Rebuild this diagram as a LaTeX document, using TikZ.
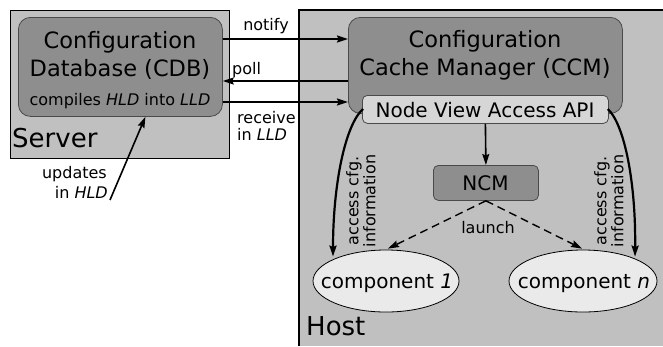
\documentclass[tikz,border=0pt]{standalone}
\usepackage{fontspec}
\setmainfont{DejaVu Sans}
\usetikzlibrary{arrows.meta,shapes.geometric}
\definecolor{boxbg}{HTML}{C0C0C0}
\definecolor{darkbox}{HTML}{8E8E8E}
\definecolor{apibg}{HTML}{D6D6D6}
\definecolor{compbg}{HTML}{EAEAEA}
\definecolor{edgegray}{HTML}{4A4A4A}
\begin{document}
\begin{tikzpicture}[x=1pt,y=-1pt,
  bigtxt/.style={font=\fontsize{22.5}{27}\selectfont},
  medtxt/.style={font=\fontsize{20}{24}\selectfont},
  smalltxt/.style={font=\fontsize{16}{17}\selectfont},
  hugetxt/.style={font=\fontsize{26}{30}\selectfont},
  txt/.style={inner sep=0pt, anchor=base},
  tipstyle/.style={-{Stealth[length=11pt,width=7pt,inset=1.5pt]}},
  conn/.style={tipstyle, line width=1.6pt},
  curveconn/.style={tipstyle, line width=2.2pt},
  dashconn/.style={tipstyle, line width=1.4pt, dash pattern=on 8pt off 5pt},
  outerbox/.style={draw, line width=1.4pt, fill=boxbg, inner sep=0pt, anchor=north west},
  darkrbox/.style={draw=edgegray, line width=0.8pt, fill=darkbox, inner sep=0pt, anchor=north west},
  compnode/.style={ellipse, draw, line width=0.8pt, fill=compbg, inner sep=0pt, minimum height=62pt}
]
\useasboundingbox (0,0) rectangle (663,346);
% Host area (extends beyond the picture)
\fill[boxbg] (299,10) rectangle (663,346);
\draw[line width=1.4pt] (299,346) -- (299,10) -- (663,10);
\node[txt, hugetxt, anchor=base west] (host) at (306,335) {Host};

% Server
\node[outerbox, minimum width=219pt, minimum height=148pt] (server) at (10,10) {};
\node[txt, hugetxt, anchor=base west] (serverlbl) at (12,147) {Server};
\node[darkrbox, rounded corners=12pt, minimum width=204pt, minimum height=99pt] (cdb) at (18,17) {};
\node[txt, bigtxt] (cdb1) at (120,48) {Configuration};
\node[txt, bigtxt] (cdb2) at (120,76) {Database (CDB)};
\node[txt, smalltxt] (cdb3) at (120,105) {compiles \textit{HLD} into \textit{LLD}};

% CCM
\node[darkrbox, rounded corners=12pt, minimum width=274pt, minimum height=96pt] (ccm) at (348,17) {};
\node[txt, bigtxt] (ccm1) at (485,47) {Configuration};
\node[txt, bigtxt] (ccm2) at (485,75) {Cache Manager (CCM)};

\node[draw=edgegray, line width=0.8pt, fill=apibg, rounded corners=5pt, inner sep=0pt, anchor=north west, minimum width=246pt, minimum height=28pt] (api) at (362,95) {};
\node[txt, medtxt] (apilbl) at (485,117) {Node View Access API};

% NCM
\node[darkrbox, rounded corners=5pt, minimum width=105pt, minimum height=35pt] (ncm) at (433,165) {};
\node[txt, medtxt] (ncmlbl) at (485.5,190) {NCM};

% components
\node[compnode, minimum width=146pt] (c1) at (386,281) {};
\node[txt, medtxt] (c1lbl) at (387,288) {component \textit{1}};
\node[compnode, minimum width=148pt] (cn) at (583,281) {};
\node[txt, medtxt] (cnlbl) at (584,288) {component \textit{n}};

% access curves
\draw[curveconn] ([xshift=1pt,yshift=-14pt]api.north west) .. controls (345,125) and (333,185) .. ([xshift=-53pt,yshift=-7pt]c1.north);
\draw[curveconn] ([xshift=-1pt,yshift=-14pt]api.north east) .. controls (625,125) and (636,185) .. ([xshift=52pt,yshift=-7pt]cn.north);
\node[smalltxt, rotate=90, align=center, inner sep=0pt] (acc1) at (361,201) {access cfg.\\information};
\node[smalltxt, rotate=90, align=center, inner sep=0pt] (acc2) at (609,201) {access cfg.\\information};

% Server <-> Host arrows
\draw[conn] ([yshift=-22pt]cdb.north east) -- ([yshift=-22pt]ccm.north west);
\draw[conn] ([yshift=-64pt]ccm.north west) -- ([yshift=-64pt]cdb.north east);
\draw[conn] ([yshift=-85pt]cdb.north east) -- ([yshift=-85pt]ccm.north west);
\node[txt, smalltxt] (notifylbl) at (266,30) {notify};
\node[txt, smalltxt, anchor=base west] (polllbl) at (232,74) {poll};
\node[txt, smalltxt, anchor=base west] (recv1) at (237,123) {receive};
\node[txt, smalltxt, anchor=base west] (recv2) at (237,140) {in \textit{LLD}};

% updates
\coordinate (upd) at (110,200);
\draw[conn] (upd) -- ([xshift=25pt]cdb.south);
\node[txt, smalltxt, anchor=base east] (upd1) at (107,178) {updates};
\node[txt, smalltxt, anchor=base east] (upd2) at (108,198) {in \textit{HLD}};

% API -> NCM
\draw[conn] (api.south) -- (ncm.north);

% launch
\draw[dashconn] (ncm.south) -- ([xshift=2pt,yshift=1pt]c1.north);
\draw[dashconn] (ncm.south) -- ([xshift=-1pt,yshift=1pt]cn.north);
\node[txt, smalltxt] (launchlbl) at (488,233) {launch};
\end{tikzpicture}
\end{document}
